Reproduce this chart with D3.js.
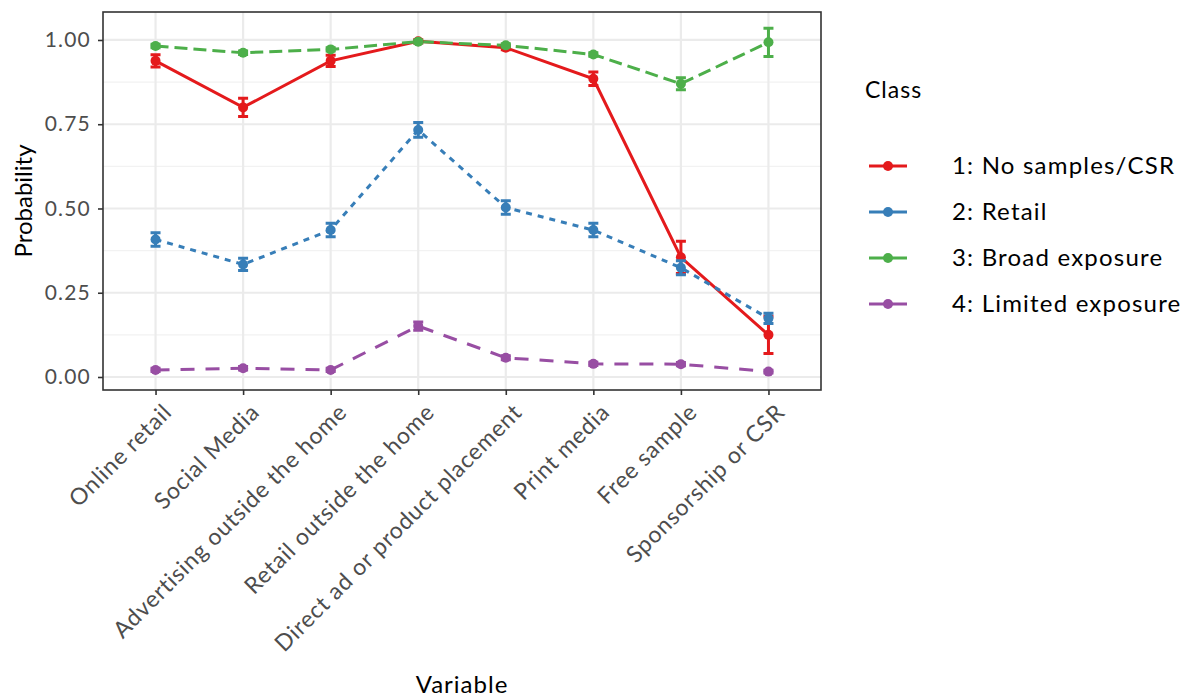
<!DOCTYPE html>
<html>
<head>
<meta charset="utf-8">
<script src="https://cdn.jsdelivr.net/npm/d3@7"></script>
<style>
  body { margin: 0; background: #fff; }
  text { font-family: Lato, "Open Sans", sans-serif; }
</style>
</head>
<body>
<svg></svg>
<script>
const variables = ["Online retail", "Social Media", "Advertising outside the home", "Retail outside the home",
    "Direct ad or product placement", "Print media", "Free sample", "Sponsorship or CSR"];
const classes = ["1: No samples/CSR", "2: Retail", "3: Broad exposure", "4: Limited exposure"];

// estimated probability and half-width of error bar per class
const prob1 = [0.938, 0.800, 0.938, 0.996, 0.977, 0.885, 0.355, 0.125];
const err1 = [0.018, 0.027, 0.017, 0.005, 0.006, 0.020, 0.048, 0.055];
const prob2 = [0.408, 0.334, 0.436, 0.733, 0.503, 0.436, 0.324, 0.174];
const err2 = [0.020, 0.018, 0.020, 0.022, 0.020, 0.020, 0.021, 0.015];
const prob3 = [0.982, 0.962, 0.972, 0.995, 0.984, 0.957, 0.870, 0.993];
const err3 = [0.005, 0.005, 0.005, 0.004, 0.005, 0.005, 0.018, 0.042];
const prob4 = [0.021, 0.026, 0.021, 0.151, 0.057, 0.039, 0.038, 0.016];
const err4 = [0.005, 0.005, 0.005, 0.012, 0.006, 0.005, 0.005, 0.004];

const yTicks = [0, 0.25, 0.5, 0.75, 1];
const yMinor = [0.125, 0.375, 0.625, 0.875];

const colors = ["#E41A1C", "#377EB8", "#4DAF4A", "#984EA3"];
const dashes = [null, "6,6", "13,6", "14,11"];

const series = [prob1, prob2, prob3, prob4].map((p, i) => ({
    name: classes[i],
    color: colors[i],
    dash: dashes[i],
    values: p.map((v, j) => ({ label: variables[j], value: v, err: [err1, err2, err3, err4][i][j] }))
}));

const svg = d3.select("svg")
    .attr("width", 1183)
    .attr("height", 699);

const panel = { left: 103, right: 821, top: 12, bottom: 390 };

const x = d3.scalePoint()
    .domain(variables)
    .range([panel.left, panel.right])
    .padding(0.6);

const y = d3.scaleLinear()
    .domain([-0.0386, 1.083])
    .range([panel.bottom, panel.top]);

// grid
const grid = svg.append("g");
grid.selectAll(".minor")
    .data(yMinor)
    .enter()
    .append("line")
    .attr("x1", panel.left).attr("x2", panel.right)
    .attr("y1", d => y(d)).attr("y2", d => y(d))
    .attr("stroke", "#f2f2f2")
    .attr("stroke-width", 1.2);
grid.selectAll(".major")
    .data(yTicks)
    .enter()
    .append("line")
    .attr("x1", panel.left).attr("x2", panel.right)
    .attr("y1", d => y(d)).attr("y2", d => y(d))
    .attr("stroke", "#ebebeb")
    .attr("stroke-width", 2.2);
grid.selectAll(".vmajor")
    .data(variables)
    .enter()
    .append("line")
    .attr("x1", d => x(d)).attr("x2", d => x(d))
    .attr("y1", panel.top).attr("y2", panel.bottom)
    .attr("stroke", "#ebebeb")
    .attr("stroke-width", 2.2);

// lines
const line = d3.line()
    .x(d => x(d.label))
    .y(d => y(d.value));

svg.selectAll(".series")
    .data(series)
    .enter()
    .append("path")
    .attr("d", d => line(d.values))
    .attr("fill", "none")
    .attr("stroke", d => d.color)
    .attr("stroke-width", 3)
    .attr("stroke-dasharray", d => d.dash);

// error bars and points
series.forEach(s => {
    const g = svg.append("g");
    g.selectAll(".eb")
        .data(s.values)
        .enter()
        .append("path")
        .attr("d", d => {
            const cx = x(d.label), y0 = y(d.value - d.err), y1 = y(d.value + d.err);
            return `M${cx - 5},${y0}H${cx + 5}M${cx},${y0}V${y1}M${cx - 5},${y1}H${cx + 5}`;
        })
        .attr("fill", "none")
        .attr("stroke", s.color)
        .attr("stroke-width", 3);
    g.selectAll(".pt")
        .data(s.values)
        .enter()
        .append("circle")
        .attr("cx", d => x(d.label))
        .attr("cy", d => y(d.value))
        .attr("r", 5)
        .attr("fill", s.color);
});

// panel border
svg.append("rect")
    .attr("x", panel.left).attr("y", panel.top)
    .attr("width", panel.right - panel.left)
    .attr("height", panel.bottom - panel.top)
    .attr("fill", "none")
    .attr("stroke", "#333")
    .attr("stroke-width", 1.6);

// y axis
const yAxis = svg.append("g")
    .attr("transform", `translate(${panel.left},0)`)
    .call(d3.axisLeft(y).tickValues(yTicks).tickFormat(d3.format(".2f")).tickSize(5).tickPadding(7));
yAxis.select(".domain").remove();
yAxis.selectAll("line").attr("stroke", "#333").attr("stroke-width", 1.6);
yAxis.selectAll("text").attr("fill", "#4d4d4d").style("font-size", "21px")
    .style("letter-spacing", "1.2px").attr("font-family", null);

// x axis
const xAxis = svg.append("g")
    .attr("transform", `translate(0,${panel.bottom})`)
    .call(d3.axisBottom(x).tickSize(5).tickFormat(""));
xAxis.select(".domain").remove();
xAxis.selectAll("line").attr("stroke", "#333").attr("stroke-width", 1.6);

svg.append("g").selectAll("text")
    .data(variables)
    .enter()
    .append("text")
    .attr("transform", d => `translate(${x(d) + 6},${panel.bottom + 12}) rotate(-45)`)
    .attr("text-anchor", "end")
    .attr("dy", "0.72em")
    .attr("fill", "#4d4d4d")
    .style("font-size", "23px")
    .style("letter-spacing", "0.8px")
    .text(d => d);

// axis titles
svg.append("text")
    .attr("x", (panel.left + panel.right) / 2)
    .attr("y", 693)
    .attr("text-anchor", "middle")
    .style("font-size", "24px")
    .style("letter-spacing", "1px")
    .text("Variable");

svg.append("text")
    .attr("transform", `translate(32,${(panel.top + panel.bottom) / 2}) rotate(-90)`)
    .attr("text-anchor", "middle")
    .style("font-size", "24px")
    .text("Probability");

// legend
const legend = svg.append("g");
legend.append("text")
    .attr("x", 865).attr("y", 98)
    .style("font-size", "23px")
    .style("letter-spacing", "1px")
    .text("Class");

const rows = legend.selectAll(".row")
    .data(series)
    .enter()
    .append("g")
    .attr("transform", (d, i) => `translate(0,${166 + i * 46})`);
rows.append("line")
    .attr("x1", 869).attr("x2", 907)
    .attr("stroke", d => d.color)
    .attr("stroke-width", 3);
rows.append("circle")
    .attr("cx", 888)
    .attr("r", 5)
    .attr("fill", d => d.color);
rows.append("text")
    .attr("x", 952)
    .attr("dy", "0.35em")
    .style("font-size", "24px")
    .style("letter-spacing", "1.2px")
    .text(d => d.name);
</script>
</body>
</html>
